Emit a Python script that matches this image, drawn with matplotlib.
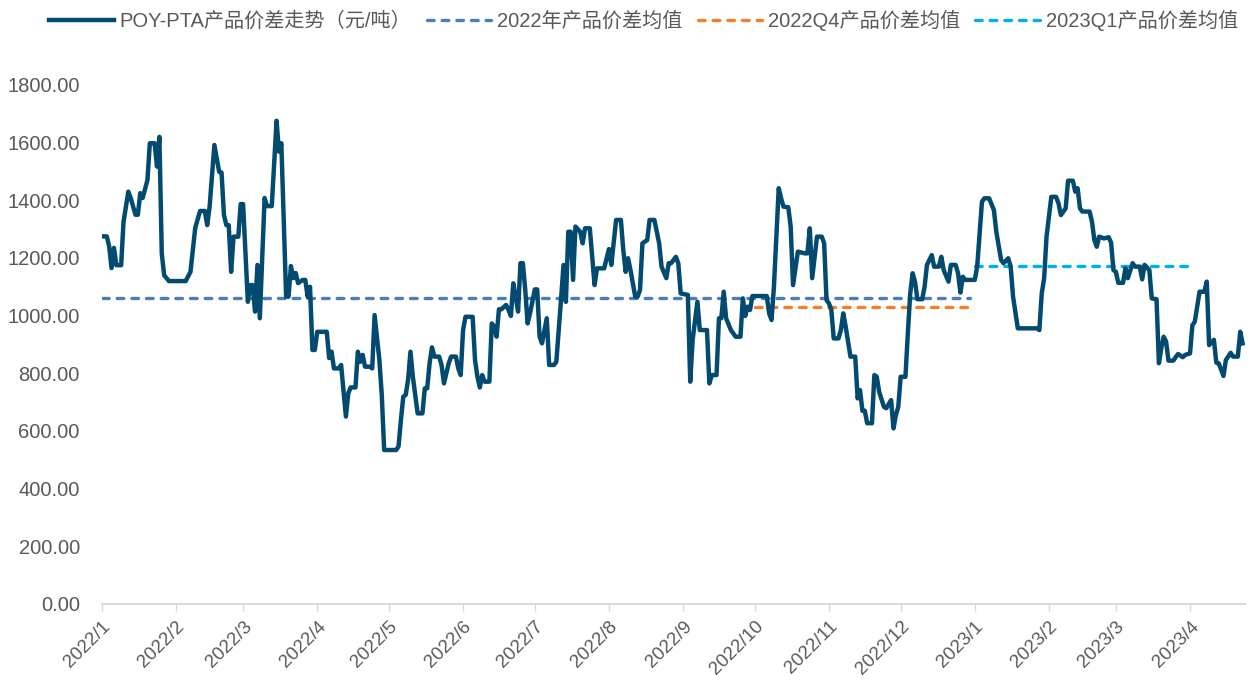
import numpy as np
import pandas as pd
import matplotlib
matplotlib.use("Agg")
import matplotlib.pyplot as plt

plt.rcParams['font.family'] = ['Liberation Sans', 'Noto Sans CJK SC', 'DejaVu Sans']

# ---- data ----
base_date = '2022-01-01'
day_offset = [0, 2, 3, 4, 5, 6, 8, 9, 11, 12, 14, 15, 16, 17, 19, 20, 22, 23, 24, 25, 26, 28, 35, 37, 39, 41, 43, 44, 45, 47,
              49, 50, 51, 52, 53, 54, 55, 57, 58, 59, 61, 62, 63, 64, 65, 66, 68, 69, 71, 73, 74, 75, 77, 78, 79, 80, 81, 82, 84, 85,
              86, 87, 88, 89, 90, 94, 95, 96, 97, 99, 100, 102, 103, 104, 106, 107, 108, 109, 110, 112, 113, 114, 116, 117, 118, 123, 124, 125, 126, 127,
              128, 129, 130, 132, 134, 135, 136, 137, 138, 139, 141, 142, 143, 145, 146, 148, 149, 150, 151, 152, 155, 156, 157, 158, 159, 160, 162, 163, 164, 165,
              166, 167, 169, 170, 171, 172, 173, 174, 175, 176, 177, 178, 179, 181, 182, 183, 184, 186, 187, 189, 190, 192, 193, 194, 195, 196, 197, 198, 200, 201,
              202, 204, 205, 206, 207, 210, 212, 213, 215, 217, 218, 219, 220, 221, 223, 224, 225, 226, 228, 229, 231, 233, 234, 236, 237, 238, 240, 241, 242, 245,
              246, 247, 249, 250, 253, 254, 255, 257, 258, 259, 260, 261, 263, 265, 267, 268, 269, 270, 271, 272, 278, 279, 280, 281, 283, 284, 285, 287, 288, 289,
              291, 294, 295, 296, 297, 299, 301, 302, 303, 304, 305, 306, 308, 309, 310, 311, 313, 315, 316, 317, 318, 319, 320, 322, 323, 324, 325, 327, 328, 330,
              331, 332, 333, 334, 336, 337, 338, 339, 340, 341, 343, 344, 345, 347, 348, 350, 351, 352, 354, 355, 357, 358, 359, 360, 361, 365, 366, 368, 369, 371,
              373, 374, 376, 377, 379, 380, 381, 383, 391, 392, 393, 394, 395, 397, 399, 400, 401, 403, 404, 406, 407, 408, 409, 410, 413, 414, 415, 416, 417, 419,
              421, 422, 423, 424, 425, 427, 428, 429, 431, 432, 434, 435, 436, 438, 439, 441, 442, 443, 444, 445, 446, 448, 449, 450, 452, 453, 455, 456, 457, 459,
              461, 462, 463, 465, 466, 467, 469, 470, 472, 473, 475, 476, 477]
spread = [1275, 1275, 1240, 1165, 1235, 1175, 1175, 1325, 1430, 1408, 1350, 1350, 1425, 1408, 1470, 1598, 1598, 1517, 1620, 1215, 1140, 1120, 1120, 1152, 1305, 1363, 1363, 1314, 1378, 1592,
          1499, 1496, 1349, 1314, 1314, 1152, 1274, 1274, 1387, 1387, 1048, 1106, 1106, 1014, 1176, 991, 1408, 1380, 1380, 1676, 1569, 1598, 1066, 1066, 1172, 1130, 1148, 1113, 1124, 1124,
          1066, 1100, 881, 881, 944, 944, 853, 875, 817, 817, 829, 650, 731, 751, 751, 875, 840, 864, 823, 823, 817, 1002, 846, 725, 534, 534, 546, 638, 719, 725,
          777, 875, 788, 661, 661, 748, 748, 835, 890, 858, 858, 829, 765, 835, 858, 858, 817, 794, 950, 996, 996, 846, 788, 751, 794, 771, 771, 973, 962, 927,
          1022, 1022, 1037, 1020, 999, 1112, 1066, 1014, 1182, 1182, 1089, 973, 1008, 1091, 1091, 927, 904, 991, 829, 829, 840, 1060, 1176, 1048, 1291, 1291, 1124, 1309, 1291, 1251,
          1303, 1303, 1204, 1106, 1164, 1164, 1231, 1176, 1332, 1332, 1228, 1152, 1199, 1158, 1066, 1066, 1089, 1251, 1262, 1332, 1332, 1251, 1170, 1130, 1182, 1182, 1204, 1182, 1077, 1072,
          771, 916, 1048, 950, 950, 765, 794, 794, 991, 991, 1083, 991, 950, 927, 927, 1060, 999, 1031, 1020, 1068, 1068, 1008, 985, 1100, 1442, 1407, 1378, 1376, 1309, 1106,
          1222, 1216, 1216, 1303, 1130, 1274, 1274, 1251, 1054, 1043, 1020, 921, 921, 950, 1008, 962, 858, 858, 713, 742, 670, 670, 627, 627, 794, 788, 736, 684, 679, 707,
          609, 655, 684, 788, 788, 939, 1077, 1147, 1118, 1057, 1057, 1100, 1176, 1210, 1170, 1170, 1204, 1158, 1118, 1176, 1176, 1147, 1080, 1135, 1124, 1124, 1170, 1395, 1407, 1407,
          1366, 1291, 1193, 1182, 1199, 1170, 1066, 956, 956, 950, 1077, 1130, 1274, 1412, 1412, 1390, 1349, 1372, 1468, 1468, 1430, 1442, 1372, 1361, 1361, 1326, 1262, 1239, 1274, 1268,
          1272, 1253, 1158, 1152, 1114, 1114, 1164, 1130, 1182, 1170, 1170, 1126, 1176, 1158, 1060, 1057, 835, 887, 927, 910, 844, 844, 856, 867, 856, 864, 869, 967, 979, 1083,
          1083, 1118, 898, 916, 837, 835, 791, 846, 871, 858, 858, 944, 904]

avg_2022 = 1061
avg_2022_span = ['2022-01-01', '2022-12-30']
avg_2022q4 = 1030
avg_2022q4_span = ['2022-10-01', '2022-12-30']
avg_2023q1 = 1172
avg_2023q1_span = ['2023-01-01', '2023-03-31']

labels = ['POY-PTA产品价差走势（元/吨）', '2022年产品价差均值', '2022Q4产品价差均值', '2023Q1产品价差均值']
yticks = [0, 200, 400, 600, 800, 1000, 1200, 1400, 1600, 1800]
month_ticks = pd.date_range('2022-01-01', '2023-04-01', freq='MS')

# ---- figure ----
dates = np.datetime64(base_date) + np.array(day_offset).astype('timedelta64[D]')

fig = plt.figure(figsize=(12.5, 6.8), dpi=100)
ax = fig.add_axes([0.0816, 0.1118, 0.9144, 0.7632])

ax.plot(dates, spread, color='#034A70', lw=3.2, solid_joinstyle='round', label=labels[0], zorder=3)

def avg_line(span, val, color, lab):
    d = pd.date_range(span[0], span[1], freq='D')
    ax.plot(d, [val] * len(d), color=color, lw=2.4, ls=(0, (2.0, 2.4)),
            dash_capstyle='round', label=lab, zorder=2)

avg_line(avg_2022_span, avg_2022, '#4A7EBB', labels[1])
avg_line(avg_2022q4_span, avg_2022q4, '#F07F2E', labels[2])
avg_line(avg_2023q1_span, avg_2023q1, '#00B0F0', labels[3])

ax.set_ylim(0, 1800)
ax.set_xlim(np.datetime64(base_date), np.datetime64(base_date) + np.timedelta64(478, 'D'))
ax.set_yticks(yticks)
ax.set_yticklabels([f'{v:.2f}' for v in yticks])
ax.set_xticks(month_ticks)
ax.set_xticklabels([f'{d.year}/{d.month}' for d in month_ticks], rotation=45, ha='right',
                   rotation_mode='anchor')

for s in ['top', 'right', 'left']:
    ax.spines[s].set_visible(False)
ax.spines['bottom'].set_color('#D9D9D9')
ax.spines['bottom'].set_linewidth(1.5)
ax.tick_params(axis='y', length=0, labelsize=14.5, labelcolor='#595959', pad=16)
ax.tick_params(axis='x', length=5, width=1, color='#D9D9D9', labelsize=13.5, labelcolor='#595959', pad=5)

leg = fig.legend(loc='upper center', bbox_to_anchor=(0.515, 1.012), ncol=4, frameon=False,
                 fontsize=14.5, handlelength=3.2, handletextpad=0.3, columnspacing=0.75)
for t in leg.get_texts():
    t.set_color('#595959')

fig.savefig('out.png', dpi=100)
